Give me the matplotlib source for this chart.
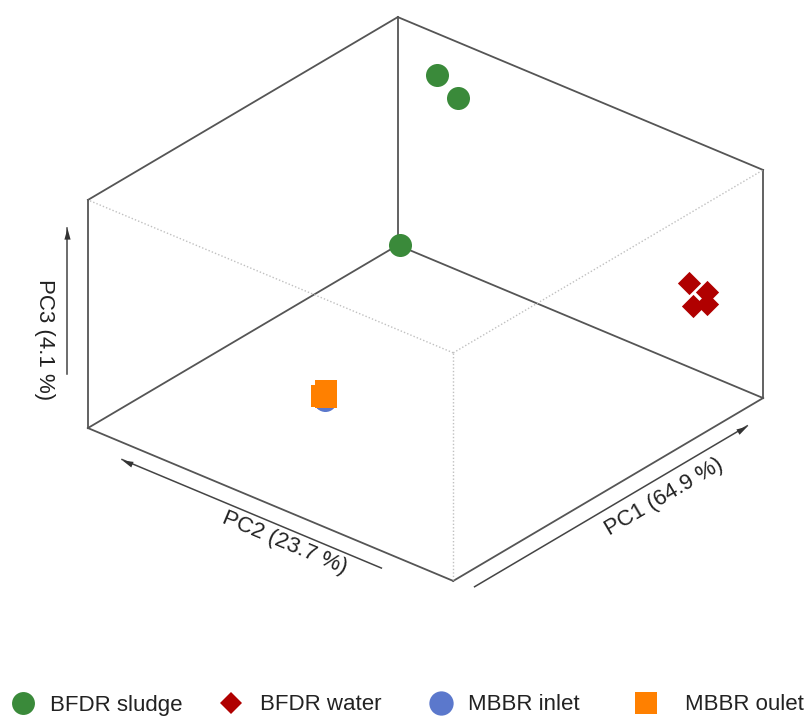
import numpy as np
import matplotlib
matplotlib.use("Agg")
import matplotlib.pyplot as plt
from matplotlib.lines import Line2D
from matplotlib.path import Path
from matplotlib.transforms import Affine2D
from mpl_toolkits.mplot3d import proj3d

plt.rcParams['font.family'] = ['Liberation Sans', 'DejaVu Sans']

# PCA scores, scaled to [-1, 1] on each component
sludge_pc1 = [0.806, 0.788, 0.568]
sludge_pc2 = [0.622, 0.492, 0.622]
sludge_pc3 = [0.90, 0.80, -0.40]

water_pc1 = [0.882, 0.872, 0.744, 0.796]
water_pc2 = [-0.696, -0.802, -0.833, -0.867]
water_pc3 = [-0.10, -0.10, -0.10, -0.10]

inlet_pc1 = [-0.300, -0.274, -0.324]
inlet_pc2 = [0.302, 0.318, 0.286]
inlet_pc3 = [-0.84, -0.88, -0.80]

outlet_pc1 = [-0.300, -0.314, -0.280]
outlet_pc2 = [0.290, 0.300, 0.307]
outlet_pc3 = [-0.76, -0.80, -0.84]

groups = ['BFDR sludge', 'BFDR water', 'MBBR inlet', 'MBBR oulet']
explained = [64.9, 23.7, 4.1]

colors = ['#3a8a3a', '#b00000', '#5b78cc', '#ff8000']
markers = ['o', 'D', 'o', 's']

W, H = 806, 717
fig = plt.figure(figsize=(W / 100, H / 100), dpi=100)
ax = fig.add_axes([0.05, 0.1, 0.9, 0.9], projection='3d', computed_zorder=False)
ax.set_proj_type('ortho')
ax.view_init(elev=29.8, azim=220.1)
ax.set_box_aspect((481, 477.5, 262.8))
ax.set_xlim(-1, 1)
ax.set_ylim(-1, 1)
ax.set_zlim(-1, 1)
ax.set_axis_off()

# box
edge_col = '#555555'
solid = [
    ((-1, -1, -1), (1, -1, -1)), ((-1, -1, -1), (-1, 1, -1)),
    ((-1, 1, -1), (1, 1, -1)), ((1, -1, -1), (1, 1, -1)),
    ((-1, 1, -1), (-1, 1, 1)), ((1, -1, -1), (1, -1, 1)),
    ((1, 1, -1), (1, 1, 1)),
    ((-1, 1, 1), (1, 1, 1)), ((1, -1, 1), (1, 1, 1)),
]
dotted = [((-1, -1, 1), (-1, 1, 1)), ((-1, -1, 1), (1, -1, 1)),
          ((-1, -1, 1), (-1, -1, -1))]
for p, q in solid:
    ax.plot(*zip(p, q), color=edge_col, lw=1.3, zorder=1)
for p, q in dotted:
    ax.plot(*zip(p, q), color='#c0c0c0', lw=1.0, ls=(0, (1, 1.5)), zorder=1)

# axis arrows with small heads
def head(angle):
    v = Affine2D().rotate_deg(angle).transform([(0, 0), (-1, 0.28), (-1, -0.28), (0, 0)])
    return Path(v, [Path.MOVETO, Path.LINETO, Path.LINETO, Path.CLOSEPOLY])

arrows = [
    ((-0.98, -1.10, -1), (0.78, -1.10, -1), 30.6),
    ((-1.11, -0.70, -1), (-1.11, 0.72, -1), 157.3),
    ((-1, 1.116, -0.60), (-1, 1.116, 0.68), 90),
]
for p, q, ang in arrows:
    ax.plot(*zip(p, q), color='#444444', lw=1.1, zorder=1)
    ax.plot([q[0]], [q[1]], [q[2]], marker=head(ang), markersize=16,
            color='#333333', mew=0, zorder=2)

# axis titles follow the direction of their box edge
lab_kw = dict(fontsize=16, color='#222222', ha='center', va='center')
ax.text(0.10, -1.22, -1, f'PC1 ({explained[0]} %)', zdir=(1, 0, 0), **lab_kw)
ax.text(-1.21, -0.256, -1, f'PC2 ({explained[1]} %)', zdir=(0, -1, 0), **lab_kw)

# samples
ax.scatter(sludge_pc1, sludge_pc2, sludge_pc3, s=275, c=colors[0], marker='o',
           depthshade=False, linewidths=0, zorder=3)
ax.scatter(water_pc1, water_pc2, water_pc3, s=140, c=colors[1], marker='D',
           depthshade=False, linewidths=0, zorder=3)
ax.scatter(inlet_pc1, inlet_pc2, inlet_pc3, s=275, c=colors[2], marker='o',
           depthshade=False, linewidths=0, zorder=3)
ax.scatter(outlet_pc1, outlet_pc2, outlet_pc3, s=265, c=colors[3], marker='s',
           depthshade=False, linewidths=0, zorder=4)

# fit the projected box into its place on the canvas
def to_pixels(pts):
    pts = np.asarray(pts, dtype=float)
    px, py, _z = proj3d.proj_transform(pts[:, 0], pts[:, 1], pts[:, 2], ax.get_proj())
    return ax.transData.transform(np.column_stack([px, py]))

corners = np.array([(x, y, z) for x in (-1, 1) for y in (-1, 1) for z in (-1, 1)])
tx0, tx1, ty0, ty1 = 88, 763, H - 581, H - 17
for _ in range(3):
    fig.canvas.draw()
    d = to_pixels(corners)
    x0, x1 = d[:, 0].min(), d[:, 0].max()
    y0, y1 = d[:, 1].min(), d[:, 1].max()
    k = ((tx1 - tx0) / (x1 - x0) + (ty1 - ty0) / (y1 - y0)) / 2
    pos = ax.get_position()
    acx, acy = (pos.x0 + pos.x1) / 2 * W, (pos.y0 + pos.y1) / 2 * H
    side = min(pos.width * W, pos.height * H) * k
    ncx = (tx0 + tx1) / 2 - k * ((x0 + x1) / 2 - acx)
    ncy = (ty0 + ty1) / 2 - k * ((y0 + y1) / 2 - acy)
    ax.set_position([(ncx - side / 2) / W, (ncy - side / 2) / H, side / W, side / H])

# PC3 title reads downwards, so it is placed as a figure text
fig.canvas.draw()
(lx3, ly3), = to_pixels([(-1, 1.236, -0.386)])
fig.text(lx3 / W, ly3 / H, f'PC3 ({explained[2]} %)', rotation=-90, **lab_kw)

# legend along the bottom
legend_x = [12, 220, 430, 635]
legend_pad = [0.72, 0.78, 0.72, 1.25]
legend_ms = [16.5, 11, 17.5, 16.5]
for name, col, mk, ms, lx, pad in zip(groups, colors, markers, legend_ms, legend_x, legend_pad):
    h = Line2D([], [], ls='none', marker=mk, color=col, markersize=ms, mew=0)
    leg = fig.legend([h], [name], loc='center left', bbox_to_anchor=(lx / W, 1 - 705 / H),
                     frameon=False, fontsize=16, borderpad=0, borderaxespad=0,
                     handlelength=1.0, handletextpad=pad)
    for t in leg.get_texts():
        t.set_color('#222222')

fig.savefig('out.png', dpi=100)
